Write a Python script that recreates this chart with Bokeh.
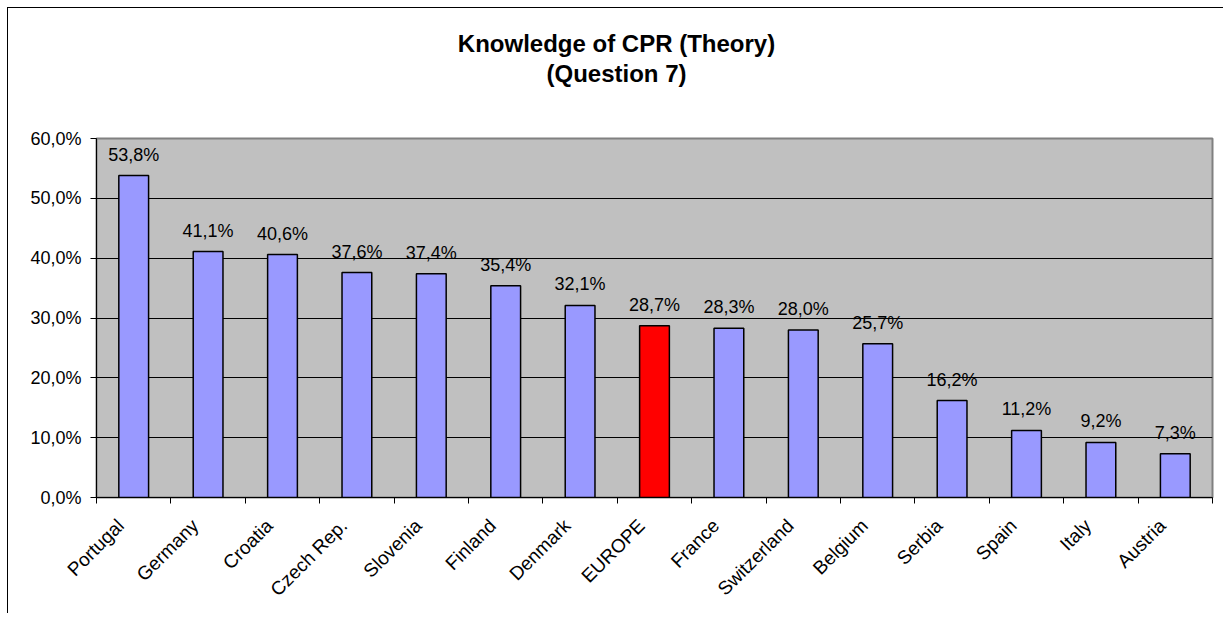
import math
from bokeh.plotting import figure
from bokeh.layouts import column
from bokeh.models import (Range1d, FixedTicker, CustomJSTickFormatter,
                          ColumnDataSource, LabelSet, Div, InlineStyleSheet)
from bokeh.core.properties import value
from bokeh.embed import file_html
from bokeh.resources import INLINE

countries = ["Portugal", "Germany", "Croatia", "Czech Rep.", "Slovenia", "Finland",
             "Denmark", "EUROPE", "France", "Switzerland", "Belgium", "Serbia",
             "Spain", "Italy", "Austria"]
values = [53.8, 41.1, 40.6, 37.6, 37.4, 35.4, 32.1, 28.7, 28.3, 28.0, 25.7, 16.2,
          11.2, 9.2, 7.3]
highlight = "EUROPE"
y_ticks = [0, 10, 20, 30, 40, 50, 60]
title_lines = ["Knowledge of CPR (Theory)", "(Question 7)"]

FONT = "Liberation Sans"
n = len(countries)
xs = [i + 0.5 for i in range(n)]
bounds = list(range(n + 1))
label_pos = [x - 0.175 for x in xs]
colors = ["#FF0000" if c == highlight else "#9999FF" for c in countries]
labels = [f"{v:.1f}".replace(".", ",") + "%" for v in values]
src = ColumnDataSource(dict(x=xs, top=values, color=colors, label=labels))

p = figure(frame_width=1116, frame_height=359, title=None,
           x_range=Range1d(0, n), y_range=Range1d(0, 60),
           output_backend="svg", toolbar_location=None,
           min_border_left=88, min_border_right=3, min_border_top=12,
           min_border_bottom=116,
           background_fill_color="#C0C0C0", border_fill_color="white",
           outline_line_color="#808080", outline_line_width=2)

p.vbar(x="x", top="top", width=0.4, bottom=0, source=src, fill_color="color",
       line_color="black", line_width=1.5)

p.add_layout(LabelSet(x="x", y="top", text="label", source=src, text_align="center",
                      text_baseline="alphabetic", y_offset=15,
                      text_font=value(FONT), text_font_size="18px", text_color="black"))

# y axis
p.yaxis.ticker = FixedTicker(ticks=y_ticks)
p.yaxis.formatter = CustomJSTickFormatter(code="return tick.toFixed(1).replace('.', ',') + '%';")
p.yaxis.major_tick_out = 6
p.yaxis.major_tick_in = 0
p.yaxis.minor_tick_line_color = None
p.yaxis.axis_line_color = "black"
p.yaxis.major_tick_line_color = "black"
p.yaxis.major_label_text_font = FONT
p.yaxis.major_label_text_font_size = "18px"
p.yaxis.major_label_text_color = "black"
p.yaxis.major_label_standoff = 9
p.ygrid.ticker = FixedTicker(ticks=y_ticks)
p.ygrid.grid_line_color = "black"
p.ygrid.grid_line_width = 1
p.xgrid.visible = False

# x axis: names under the categories, tick marks at category boundaries
p.xaxis.ticker = FixedTicker(ticks=label_pos, minor_ticks=bounds)
p.xaxis.formatter = CustomJSTickFormatter(args=dict(names=countries),
                                          code="return names[Math.floor(tick)];")
p.xaxis.major_label_orientation = math.pi / 4
p.xaxis.major_tick_line_color = None
p.xaxis.major_tick_out = 0
p.xaxis.major_tick_in = 0
p.xaxis.minor_tick_line_color = "black"
p.xaxis.minor_tick_out = 6
p.xaxis.minor_tick_in = 0
p.xaxis.axis_line_color = "black"
p.xaxis.major_label_text_font = FONT
p.xaxis.major_label_text_font_size = "19px"
p.xaxis.major_label_text_color = "black"
p.xaxis.major_label_standoff = 19

title_html = ("<div style=\"width:1194px; padding-top:16px; padding-left:13px; text-align:center; "
              "font-family:'Liberation Sans'; font-weight:bold; font-size:24px; "
              "line-height:30px; color:black;\">" + "<br>".join(title_lines) + "</div>")
title_div = Div(text=title_html, width=1207, height=108)

layout = column(title_div, p, spacing=0)
layout.stylesheets = [InlineStyleSheet(css=":host { margin: 7px 0 0 7px; border-left: 1px solid black; border-top: 1px solid black; background: white; }")]

open("out.html", "w").write(file_html(layout, INLINE))
